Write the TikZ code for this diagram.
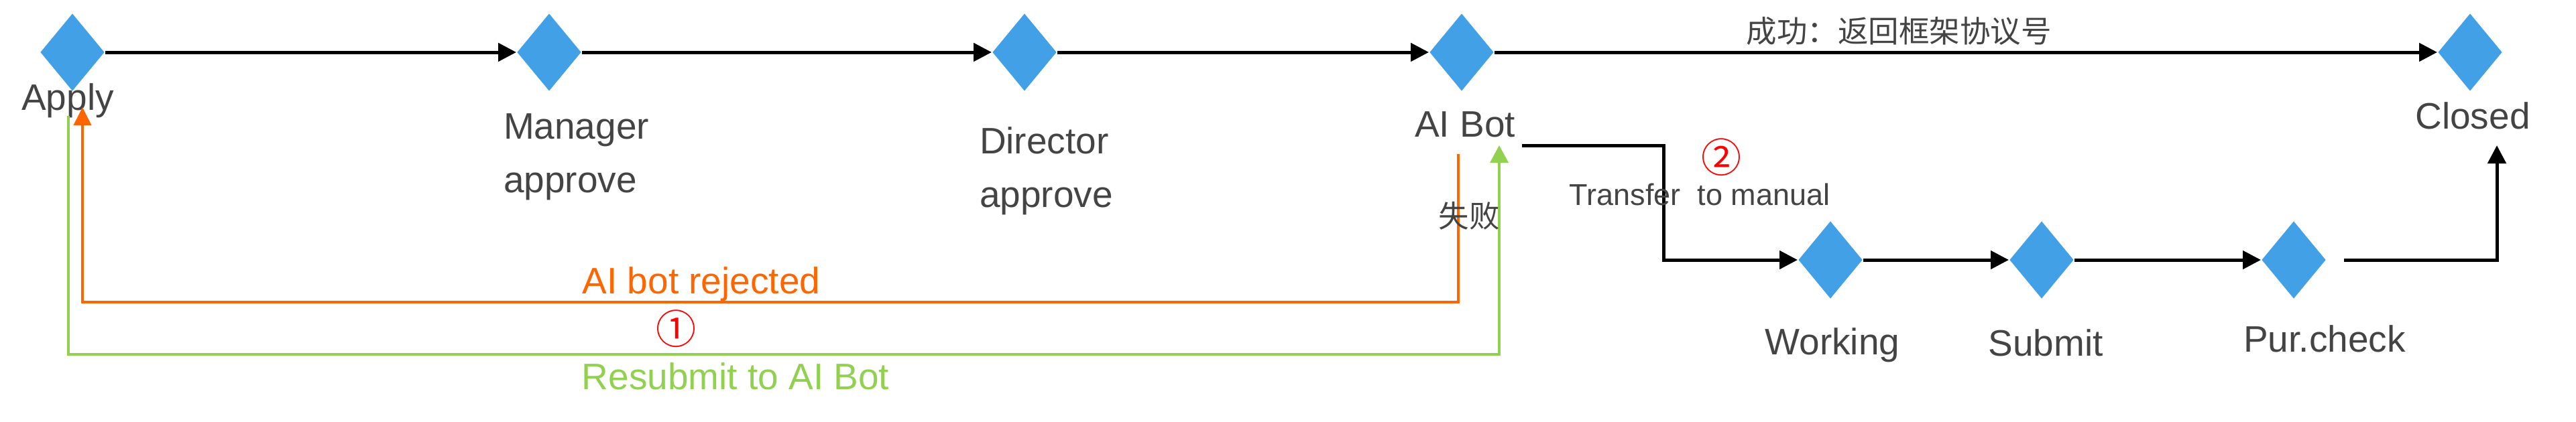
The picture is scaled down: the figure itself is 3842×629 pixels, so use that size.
\documentclass[tikz,border=0pt]{standalone}
\usepackage{fontspec}
\setmainfont{Liberation Sans}
\newfontfamily\cjk{Noto Sans CJK SC}
\usetikzlibrary{arrows.meta,shapes.geometric}
\definecolor{dblue}{HTML}{42A0E6}
\definecolor{tgray}{HTML}{444444}
\definecolor{rejorange}{HTML}{FF6600}
\definecolor{resgreen}{HTML}{92D050}
\begin{document}
\begin{tikzpicture}[x=0.2pt,y=-0.2pt,
  state/.style={diamond, fill=dblue, draw=none, inner sep=0pt, minimum width=19.2pt, minimum height=23.2pt},
  lbl/.style={text=tgray, font=\fontsize{11}{16}\selectfont, inner sep=0pt},
  elbl/.style={text=tgray, font=\fontsize{9}{11}\selectfont, inner sep=0pt},
  zhlbl/.style={text=tgray, font=\cjk\fontsize{9.1}{11}\selectfont, inner sep=0pt},
  numlbl/.style={text=red, font=\cjk\fontsize{12}{12}\selectfont, inner sep=0pt},
  flow/.style={draw=black, line width=1pt, -{Triangle[length=5.4pt,width=5.4pt]}},
  rejflow/.style={draw=rejorange, line width=0.8pt, -{Triangle[length=5.4pt,width=5.2pt]}},
  resflow/.style={draw=resgreen, line width=0.8pt, -{Triangle[length=5.2pt,width=5.4pt]}}
]
\useasboundingbox (0,0) rectangle (3842,629);
% states
\node[state] (apply) at (108,78) {};
\node[state] (mgr) at (819,78) {};
\node[state] (dir) at (1528,78) {};
\node[state] (bot) at (2180,78) {};
\node[state] (closed) at (3684,78) {};
\node[state] (working) at (2730,388) {};
\node[state] (submit) at (3045,388) {};
\node[state] (pur) at (3421,388) {};
% state labels
\node[lbl, anchor=base] (applyt) at (101,164) {Apply};
\node[lbl, anchor=base west, align=left] (mgrt) at (750,287) {Manager\\approve};
\node[lbl, anchor=base west, align=left] (dirt) at (1460,309) {Director\\approve};
\node[lbl, anchor=base] (bott) at (2185,204) {AI Bot};
\node[lbl, anchor=base] (closedt) at (3688,192) {Closed};
\node[lbl, anchor=base] (workingt) at (2733,529) {Working};
\node[lbl, anchor=base] (submitt) at (3051,531) {Submit};
\node[lbl, anchor=base] (purt) at (3467,525) {Pur.check};
% free ends
\coordinate (botout) at (2270,217);
\coordinate (tbend) at (2481,217);
\coordinate (closedin) at (3724,217);
\coordinate (rejS) at (2175,230);
\coordinate (rejC) at (2175,451);
\coordinate (rejE) at (123,160);
\coordinate (resS) at (102,173);
\coordinate (resC) at (102,529);
\coordinate (resE) at (2236,217);
% main flow
\draw[flow] (apply.east) -- (mgr.west);
\draw[flow] (mgr.east) -- (dir.west);
\draw[flow] (dir.east) -- (bot.west);
\draw[flow] (bot.east) -- (closed.west);
\draw[flow] (botout) -- (tbend) |- (working.west);
\draw[flow] (working.east) -- (submit.west);
\draw[flow] (submit.east) -- (pur.west);
\draw[flow, shorten <=5.2pt] (pur.east) -- (pur.east -| closedin) -- (closedin);
% return flows
\draw[rejflow] (rejS) -- (rejC) -| (rejE);
\draw[resflow] (resS) -- (resC) -| (resE);
% edge labels
\node[zhlbl] (succ) at (2832,46) {成功：返回框架协议号};
\node[zhlbl] (fail) at (2191,322) {失败};
\node[elbl, anchor=base] (transfer) at (2535,306) {Transfer~~to manual};
\node[numlbl] (n2) at (2567,235) {②};
\node[lbl, anchor=base, text=rejorange] (rej) at (1046,438) {AI bot rejected};
\node[numlbl] (n1) at (1008,491) {①};
\node[lbl, anchor=base, text=resgreen] (res) at (1097,581) {Resubmit to AI Bot};
\end{tikzpicture}
\end{document}
